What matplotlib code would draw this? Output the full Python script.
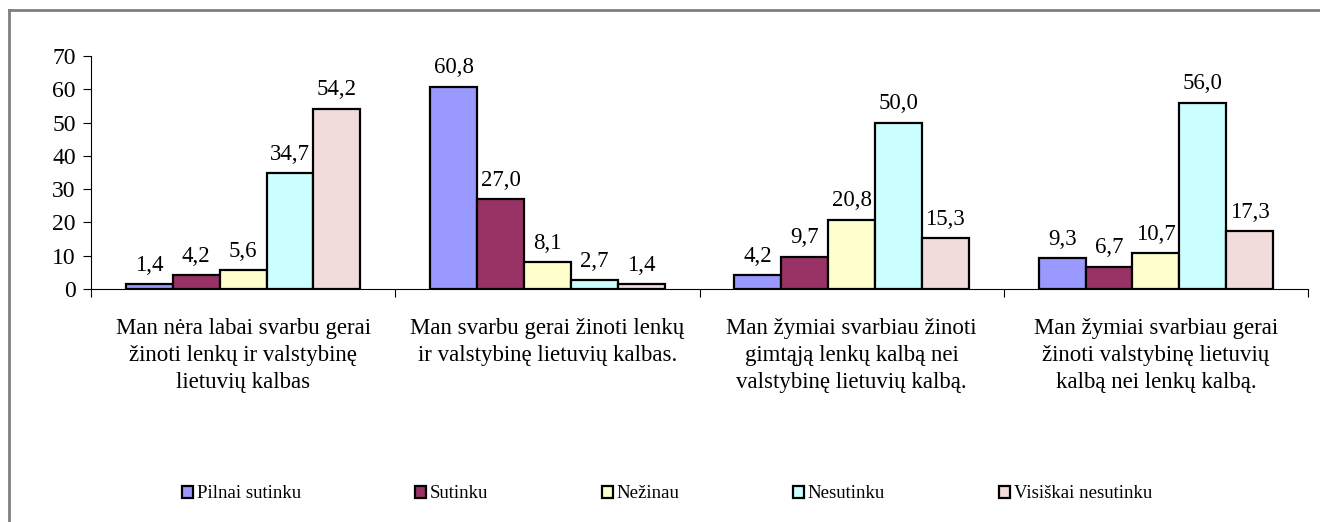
import matplotlib
matplotlib.use('Agg')
import matplotlib.pyplot as plt
import numpy as np
from matplotlib.lines import Line2D
from matplotlib.patches import Patch

categories = [
  "Man nėra labai svarbu gerai\nžinoti lenkų ir valstybinę\nlietuvių kalbas",
  "Man svarbu gerai žinoti lenkų\nir valstybinę lietuvių kalbas.",
  "Man žymiai svarbiau žinoti\ngimtąją lenkų kalbą nei\nvalstybinę lietuvių kalbą.",
  "Man žymiai svarbiau gerai\nžinoti valstybinę lietuvių\nkalbą nei lenkų kalbą.",
]
series_names = ["Pilnai sutinku", "Sutinku", "Nežinau", "Nesutinku", "Visiškai nesutinku"]
pilnai_sutinku = [1.4, 60.8, 4.2, 9.3]
sutinku = [4.2, 27.0, 9.7, 6.7]
nezinau = [5.6, 8.1, 20.8, 10.7]
nesutinku = [34.7, 2.7, 50.0, 56.0]
visiskai_nesutinku = [54.2, 1.4, 15.3, 17.3]
colors = ["#9999FF", "#993366", "#FFFFCC", "#CCFFFF", "#F2DCDB"]
yticks = [0, 10, 20, 30, 40, 50, 60, 70]

def main():
  plt.rcParams['font.family'] = ['Liberation Serif', 'DejaVu Serif']
  W, H = 1320, 522
  fig = plt.figure(figsize=(W / 100, H / 100), dpi=100)
  ax = fig.add_axes([91 / W, 1 - 289 / H, (1308 - 91) / W, (289 - 56) / H])

  data = [pilnai_sutinku, sutinku, nezinau, nesutinku, visiskai_nesutinku]
  n = len(data)
  bw = 0.154
  x = np.arange(len(categories)) + 0.5
  for k, (vals, col) in enumerate(zip(data, colors)):
    pos = x + (k - (n - 1) / 2) * bw
    bars = ax.bar(pos, vals, width=bw, color=col, edgecolor='black', linewidth=1.6, zorder=3)
    for b, v in zip(bars, vals):
      ax.annotate(("%.1f" % v).replace('.', ','), (b.get_x() + bw / 2, v),
                  xytext=(0, 6), textcoords='offset points', ha='center', va='bottom',
                  fontsize=16.5)

  ax.set_xlim(0, len(categories))
  ax.set_ylim(0, 70)
  ax.set_yticks(yticks)
  ax.set_yticklabels([str(t) for t in yticks], fontsize=17)
  ax.set_xticks(np.arange(len(categories) + 1))
  ax.set_xticklabels([])
  ax.set_xticks(x, minor=True)
  ax.set_xticklabels(categories, minor=True, fontsize=16.5, linespacing=1.38)
  ax.tick_params(axis='x', which='minor', length=0, pad=21)
  ax.tick_params(axis='x', which='major', length=5.5, direction='out', width=0.8)
  ax.tick_params(axis='y', length=5.5, direction='out', width=0.8, pad=5.5)
  for s in ['top', 'right']:
    ax.spines[s].set_visible(False)
  ax.spines['left'].set_linewidth(0.8)
  ax.spines['bottom'].set_linewidth(0.8)

  handles = [Patch(facecolor=c, edgecolor='black', linewidth=1.6) for c in colors]
  fig.legend(handles, series_names, loc='center', bbox_to_anchor=(667 / W, 1 - 494 / H),
             ncol=5, frameon=False, fontsize=13.5, handlelength=0.6, handleheight=0.6,
             handletextpad=0.2, columnspacing=6.05)

  # outer chart frame
  fig.add_artist(Line2D([9 / W, 9 / W], [0, 1 - 10 / H], color='#808080', lw=2, transform=fig.transFigure))
  fig.add_artist(Line2D([9 / W, 1], [1 - 10 / H, 1 - 10 / H], color='#808080', lw=2, transform=fig.transFigure))

  fig.savefig('out.png', dpi=100)

if __name__ == '__main__':
  main()
